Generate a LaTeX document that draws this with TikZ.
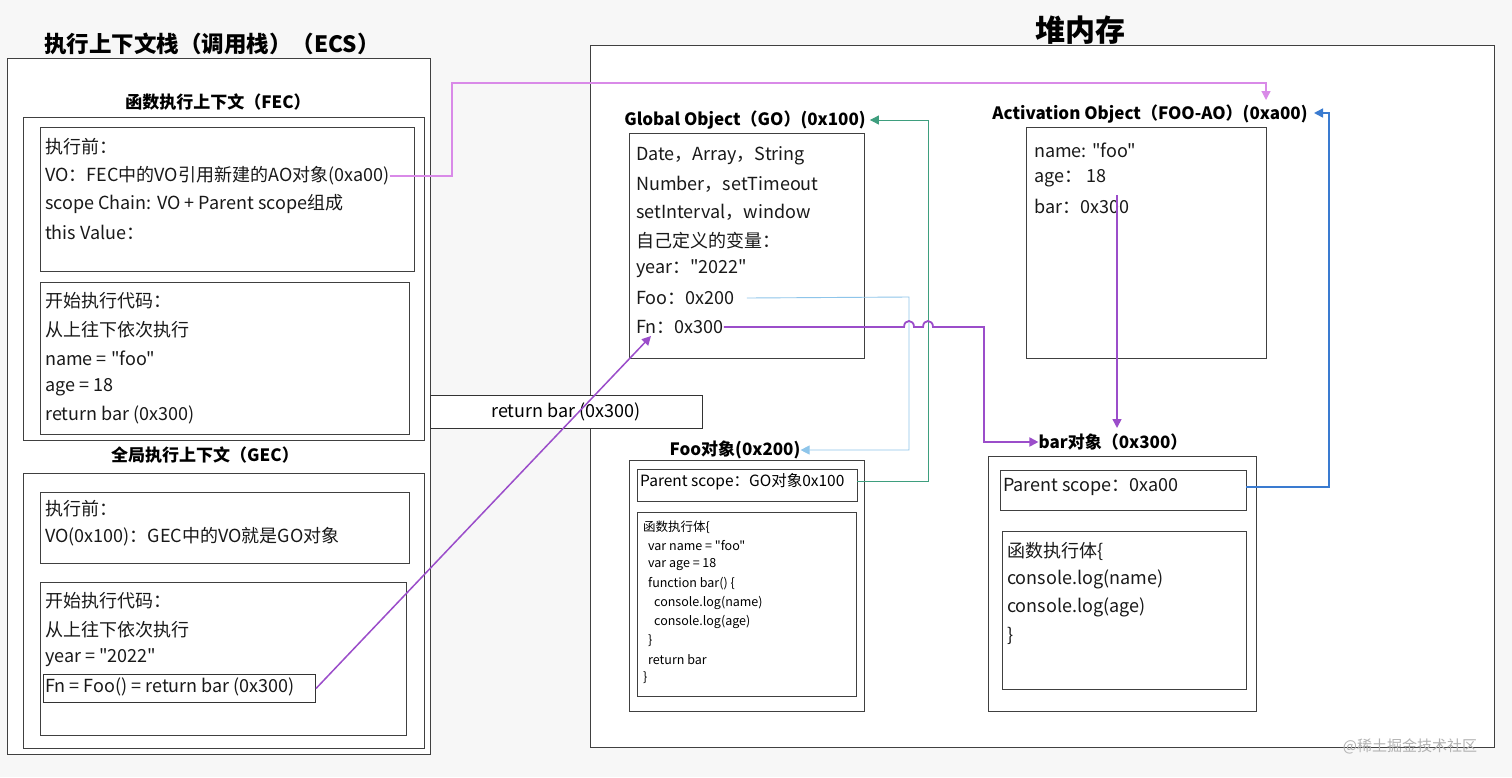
\documentclass[tikz,border=0pt]{standalone}
\usepackage{fontspec}
\newfontfamily\cjkf{Noto Sans CJK SC}
\usetikzlibrary{arrows.meta}
\definecolor{pinkv}{HTML}{D98AE8}
\definecolor{purp}{HTML}{9B4DCA}
\definecolor{lblue}{HTML}{8EC5EA}
\definecolor{grn}{HTML}{3E9E7E}
\definecolor{blu}{HTML}{3A7BD0}
\begin{document}
\cjkf
\begin{tikzpicture}[x=1pt,y=-1pt,
  box/.style={draw=black!75,line width=1pt,fill=white},
  t/.style={anchor=west,inner sep=0pt,font=\fontsize{18}{18}\selectfont,text=black!90},
  s/.style={anchor=west,inner sep=0pt,font=\fontsize{12.5}{12.5}\selectfont},
  h/.style={inner sep=0pt,font=\fontsize{17}{17}\selectfont\bfseries},
  ar/.style={-{Triangle[length=9pt,width=9pt]}}]
\fill[gray!6] (0,0) rectangle (1512,777);
\useasboundingbox (0,0) rectangle (1512,777);
% heap
\node[h,font=\fontsize{30}{30}\selectfont\bfseries] (heapt) at (1080,30) {堆内存};
\draw[box] (590,45) rectangle (1494,747);
% ECS
\node[h,font=\fontsize{22.5}{22.5}\selectfont\bfseries] (ecst) at (212,44) {执行上下文栈（调用栈）（ECS）};
\draw[box] (7,58) rectangle (430,754);
\node[h] (fect) at (218,102) {函数执行上下文（FEC）};
\draw[box] (23,117) rectangle (424,440);
\draw[box] (40,127) rectangle (414,271);
\node[t] at (45,147) {执行前：};
\node[t] (fecvo) at (45,176) {VO：FEC中的VO引用新建的AO对象(0xa00)};
\node[t] at (45,204) {scope Chain: VO + Parent scope组成};
\node[t] at (45,232) {this Value：};
\draw[box] (40,282) rectangle (409,434);
\node[t] at (45,301) {开始执行代码：};
\node[t] at (45,330) {从上往下依次执行};
\node[t] at (45,358) {name = "foo"};
\node[t] at (45,387) {age = 18};
\node[t] at (45,415) {return bar  (0x300)};
\node[h] (gect) at (205,455) {全局执行上下文（GEC）};
\draw[box] (23,473) rectangle (424,748);
\draw[box] (40,492) rectangle (409,563);
\node[t] at (45,509) {执行前：};
\node[t] at (45,537) {VO(0x100)：GEC中的VO就是GO对象};
\draw[box] (40,582) rectangle (406,735);
\node[t] at (45,601) {开始执行代码：};
\node[t] at (45,630) {从上往下依次执行};
\node[t] at (45,658) {year = "2022"};
\node[draw=black!80,line width=1pt,fill=white,minimum width=272pt,minimum height=28pt,anchor=north west,inner sep=0pt] (fnbox) at (43,674) {};
\node[t] at (45,687) {Fn = Foo() = return bar (0x300)};
\node[draw=black!80,line width=1pt,fill=white,minimum width=272pt,minimum height=33pt,inner sep=0pt,font=\fontsize{18}{18}\selectfont] (ret) at (566,411.5) {return bar (0x300)};
\node[h] (got) at (745,120) {Global Object（GO）(0x100)};
\draw[box] (629,133) rectangle (864,358);
\node[t] at (636,156) {Date，Array，String};
\node[t] at (636,184) {Number，setTimeout};
\node[t] at (636,212) {setInterval，window};
\node[t] at (636,241) {自己定义的变量：};
\node[t] at (636,269) {year："2022"};
\node[t] (gofoo) at (636,298) {Foo：0x200};
\node[t] (gofn) at (636,327) {Fn：0x300};
\node[h] (aot) at (1150,114) {Activation Object（FOO-AO）(0xa00)};
\draw[box] (1026,127) rectangle (1266,358);
\node[t] at (1034,150) {name: "foo"};
\node[t] at (1034,178) {age： 18};
\node[t] (aobar) at (1034,206) {bar：0x300};
\node[h] (foot) at (735,450) {Foo对象(0x200)};
\draw[box] (629,460) rectangle (864,711);
\draw[box] (637,469) rectangle (857,501);
\node[s,font=\fontsize{15.5}{15.5}\selectfont] (foops) at (640,482) {Parent scope：GO对象0x100};
\coordinate (foopsE) at (857,481);
\draw[box] (637,512) rectangle (856,696);
\node[s] at (643,527) {函数执行体\{};
\node[s] at (648,546) {var name = "foo"};
\node[s] at (648,565) {var age = 18};
\node[s] at (648,584) {function bar() \{};
\node[s] at (654,603) {console.log(name)};
\node[s] at (654,622) {console.log(age)};
\node[s] at (648,641) {\}};
\node[s] at (648,660) {return bar};
\node[s] at (643,678) {\}};
\node[h] (bart) at (1113,442) {bar对象（0x300）};
\draw[box] (988,456) rectangle (1256,711);
\draw[box] (1000,470) rectangle (1246,510);
\node[t] (barps) at (1003,487) {Parent scope：0xa00};
\coordinate (barpsE) at (1246,487);
\draw[box] (1002,531) rectangle (1246,689);
\node[t] at (1007,551) {函数执行体\{};
\node[t] at (1007,579) {console.log(name)};
\node[t] at (1007,607) {console.log(age)};
\node[t] at (1007,636) {\}};
\node[text=gray!60,font=\fontsize{15}{15}\selectfont,inner sep=0pt] (wm) at (1410,746) {@稀土掘金技术社区};
% connectors
\coordinate (aoin) at (1266,100);
\coordinate (aoR) at (1314,113);
\draw[pinkv,line width=1.3pt,ar] (fecvo.east) -- (452,176) -- (452,83) -| (aoin);
\draw[purp,line width=1.5pt,ar] (fnbox.east) -- (651,336);
\draw[lblue,line width=0.9pt,ar] (gofoo.east)++(12,0) -- (909,297) |- (foot.east);
\draw[grn,line width=0.9pt,ar] (foopsE) -- (928,481) |- ([xshift=4pt]got.east);
\draw[purp,line width=1.8pt,ar] (gofn.east) -- (904,327) .. controls (904,319) and (914,319) .. (914,327) -- (923,327) .. controls (923,319) and (933,319) .. (933,327) -- (984,327) |- (bart.west);
\draw[purp,line width=1.5pt,ar] ([xshift=83pt,yshift=11pt]aobar.west) -- (1117,428);
\draw[blu,line width=1.5pt,ar] (barpsE) -- (1329,487) |- (aoR);
\end{tikzpicture}
\end{document}
